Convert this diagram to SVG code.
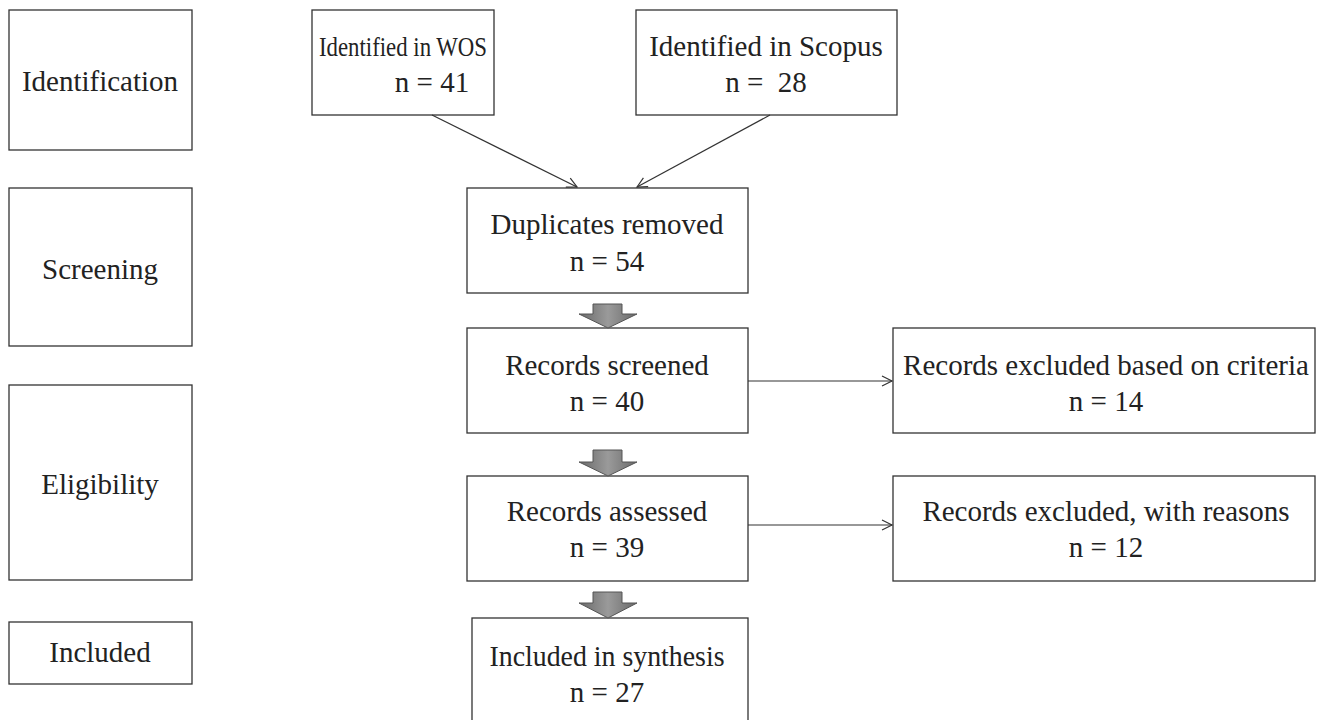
<svg xmlns="http://www.w3.org/2000/svg" width="1322" height="720" viewBox="0 0 1322 720">
<defs>
<style>
.box{fill:#fff;stroke:#333;stroke-width:1.3}
.t{font-family:"Liberation Serif","Times New Roman",serif;font-size:29px;fill:#222;text-anchor:middle}
.ln{stroke:#333;stroke-width:1.2;fill:none}
.blk{stroke:#555;stroke-width:1;fill:url(#g)}
</style>
<linearGradient id="g" x1="0" y1="0" x2="1" y2="0">
<stop offset="0" stop-color="#6a6a6a"/>
<stop offset="0.5" stop-color="#9a9a9a"/>
<stop offset="1" stop-color="#6a6a6a"/>
</linearGradient>
<marker id="ah" markerWidth="14" markerHeight="14" refX="12" refY="7" orient="auto" markerUnits="userSpaceOnUse">
<path d="M2,2 L12,7 L2,12" fill="none" stroke="#333" stroke-width="1.2"/>
</marker>
</defs>
<rect width="1322" height="720" fill="#fff"/>
<g id="stage-identification"><rect class="box" x="9" y="10" width="183" height="140"/><text class="t" x="100" y="91">Identification</text></g>
<g id="stage-screening"><rect class="box" x="9" y="188" width="183" height="158"/><text class="t" x="100" y="279">Screening</text></g>
<g id="stage-eligibility"><rect class="box" x="9" y="385" width="183" height="195"/><text class="t" x="100" y="494">Eligibility</text></g>
<g id="stage-included"><rect class="box" x="9" y="622" width="183" height="62"/><text class="t" x="100" y="662">Included</text></g>

<g id="wos"><rect class="box" x="312" y="10" width="182" height="105"/><text class="t" x="403" y="56" style="font-size:28px" textLength="168" lengthAdjust="spacingAndGlyphs">Identified in WOS</text><text class="t" x="432" y="92">n = 41</text></g>
<g id="scopus"><rect class="box" x="636" y="10" width="261" height="105"/><text class="t" x="766" y="56">Identified in Scopus</text><text class="t" x="766" y="92" xml:space="preserve">n =  28</text></g>
<g id="duplicates"><rect class="box" x="467" y="188" width="281" height="105"/><text class="t" x="607" y="234" textLength="233" lengthAdjust="spacingAndGlyphs">Duplicates removed</text><text class="t" x="607" y="271">n = 54</text></g>
<g id="screened"><rect class="box" x="467" y="328" width="281" height="105"/><text class="t" x="607" y="375">Records screened</text><text class="t" x="607" y="411">n = 40</text></g>
<g id="excluded-criteria"><rect class="box" x="893" y="328" width="422" height="105"/><text class="t" x="1106" y="375">Records excluded based on criteria</text><text class="t" x="1106" y="411">n = 14</text></g>
<g id="assessed"><rect class="box" x="467" y="476" width="281" height="105"/><text class="t" x="607" y="521">Records assessed</text><text class="t" x="607" y="557">n = 39</text></g>
<g id="excluded-reasons"><rect class="box" x="893" y="476" width="422" height="105"/><text class="t" x="1106" y="521">Records excluded, with reasons</text><text class="t" x="1106" y="557">n = 12</text></g>
<g id="synthesis"><rect class="box" x="472" y="618" width="276" height="110"/><text class="t" x="607" y="666" textLength="235" lengthAdjust="spacingAndGlyphs">Included in synthesis</text><text class="t" x="607" y="702">n = 27</text></g>

<g id="connectors">
<line class="ln" x1="432" y1="115" x2="577" y2="187" marker-end="url(#ah)"/>
<line class="ln" x1="770" y1="115" x2="637" y2="187" marker-end="url(#ah)"/>
<line class="ln" x1="748" y1="381" x2="892" y2="381" marker-end="url(#ah)"/>
<line class="ln" x1="748" y1="525" x2="892" y2="525" marker-end="url(#ah)"/>
<path class="blk" d="M593,304 H622 V314 H637 L608,328 L579,314 H593 Z"/>
<path class="blk" d="M593,450 H622 V462 H637 L608,476 L579,462 H593 Z"/>
<path class="blk" d="M593,592 H622 V603 H637 L608,618 L579,603 H593 Z"/>
</g>
</svg>
